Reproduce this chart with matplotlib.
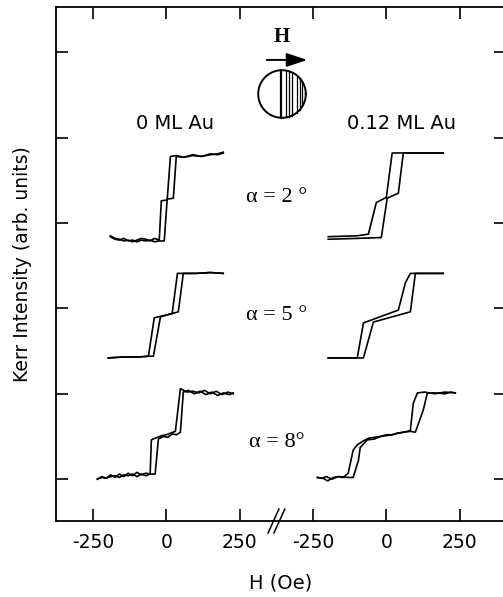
import matplotlib
matplotlib.use("Agg")
import matplotlib.pyplot as plt
import numpy as np

# ---- data: Kerr hysteresis loops (H in Oe, intensity in arb. units) ----
# left panel: 0 ML Au
l2_asc_h = [-191, -175, -160, -145, -130, -115, -100, -85, -70, -55, -40, -24, -7, 3, 24, 34, 60, 90, 120, 150, 175, 194]
l2_asc_k = [2.84, 2.81, 2.80, 2.82, 2.79, 2.80, 2.78, 2.80, 2.79, 2.80, 2.78, 2.79, 2.79, 3.28, 3.29, 3.78, 3.77, 3.79, 3.78, 3.80, 3.81, 3.83]
l2_desc_h = [194, 175, 150, 120, 90, 60, 35, 14, 3, -17, -24, -40, -55, -70, -85, -100, -115, -130, -145, -160, -175, -191]
l2_desc_k = [3.82, 3.80, 3.81, 3.78, 3.80, 3.77, 3.79, 3.78, 3.27, 3.26, 2.80, 2.82, 2.79, 2.81, 2.82, 2.80, 2.78, 2.80, 2.79, 2.81, 2.82, 2.85]

l5_asc_h = [-198, -150, -100, -60, -44, -20, 41, 58, 100, 150, 194]
l5_asc_k = [1.42, 1.43, 1.43, 1.44, 1.44, 1.90, 1.96, 2.41, 2.41, 2.42, 2.41]
l5_desc_h = [194, 150, 100, 38, 20, -41, -61, -100, -150, -198]
l5_desc_k = [2.41, 2.42, 2.41, 2.41, 1.94, 1.89, 1.44, 1.43, 1.43, 1.42]

l8_asc_h = [-235, -220, -205, -190, -175, -160, -145, -130, -115, -100, -85, -70, -55, -38, -27, -10, 5, 20, 35, 48, 58, 75, 95, 115, 135, 155, 175, 195, 215, 228]
l8_asc_k = [0.00, 0.03, 0.01, 0.05, 0.02, 0.06, 0.03, 0.07, 0.04, 0.08, 0.05, 0.07, 0.06, 0.06, 0.47, 0.50, 0.49, 0.53, 0.52, 0.55, 1.02, 1.04, 1.00, 1.03, 0.99, 1.02, 0.98, 1.01, 0.99, 1.01]
l8_desc_h = [228, 210, 190, 170, 150, 130, 110, 90, 70, 48, 31, 15, 0, -15, -30, -45, -51, -55, -70, -85, -100, -115, -130, -145, -160, -175, -190, -205, -220, -235]
l8_desc_k = [1.00, 1.02, 0.99, 1.03, 1.00, 1.04, 1.01, 1.03, 1.02, 1.06, 0.56, 0.54, 0.52, 0.51, 0.49, 0.47, 0.46, 0.06, 0.04, 0.06, 0.03, 0.06, 0.04, 0.05, 0.02, 0.04, 0.03, 0.01, 0.02, 0.00]

# right panel: 0.12 ML Au
r2_asc_h = [-198, -100, -17, 3, 41, 58, 120, 194]
r2_asc_k = [2.81, 2.82, 2.83, 3.29, 3.35, 3.82, 3.82, 3.82]
r2_desc_h = [194, 120, 20, 0, -34, -61, -100, -198]
r2_desc_k = [3.82, 3.82, 3.82, 3.30, 3.24, 2.87, 2.85, 2.84]

r5_asc_h = [-198, -120, -78, -44, 82, 99, 150, 194]
r5_asc_k = [1.42, 1.42, 1.42, 1.84, 1.96, 2.41, 2.41, 2.41]
r5_desc_h = [194, 150, 82, 65, 41, -78, -99, -150, -198]
r5_desc_k = [2.41, 2.41, 2.41, 2.30, 1.98, 1.83, 1.42, 1.42, 1.42]

r8_asc_h = [-235, -215, -200, -180, -160, -130, -113, -95, -89, -65, -40, -20, 0, 20, 40, 60, 82, 99, 126, 140, 170, 200, 220, 235]
r8_asc_k = [0.02, 0.01, -0.02, 0.02, 0.03, 0.02, 0.02, 0.22, 0.37, 0.46, 0.47, 0.50, 0.51, 0.52, 0.54, 0.55, 0.56, 0.55, 0.81, 1.01, 1.01, 1.00, 1.02, 1.01]
r8_desc_h = [235, 200, 165, 130, 106, 92, 82, 60, 40, 20, 0, -20, -40, -60, -82, -100, -113, -130, -147, -165, -185, -205, -220, -235]
r8_desc_k = [1.01, 1.02, 1.00, 1.02, 1.01, 0.89, 0.57, 0.55, 0.54, 0.52, 0.52, 0.50, 0.49, 0.48, 0.44, 0.40, 0.34, 0.07, 0.02, 0.03, 0.00, 0.03, 0.01, 0.02]

tick_vals = [-250, 0, 250]
panel_labels = ["0 ML Au", "0.12 ML Au"]
alpha_labels = [u"\u03b1 = 2 \u00b0", u"\u03b1 = 5 \u00b0", u"\u03b1 = 8\u00b0"]

# right panel is drawn shifted along x (broken axis)
shift = 750

sans = "DejaVu Sans"
serif = "Liberation Serif"

fig = plt.figure(figsize=(5.03, 5.97), dpi=100)
ax = fig.add_axes([56 / 503, 76 / 597, 450 / 503, 514 / 597])

left_loops = [(l2_asc_h, l2_asc_k, l2_desc_h, l2_desc_k),
              (l5_asc_h, l5_asc_k, l5_desc_h, l5_desc_k),
              (l8_asc_h, l8_asc_k, l8_desc_h, l8_desc_k)]
right_loops = [(r2_asc_h, r2_asc_k, r2_desc_h, r2_desc_k),
               (r5_asc_h, r5_asc_k, r5_desc_h, r5_desc_k),
               (r8_asc_h, r8_asc_k, r8_desc_h, r8_desc_k)]

for ah, ak, dh, dk in left_loops:
    ax.plot(ah, ak, color="black", lw=1.2)
    ax.plot(dh, dk, color="black", lw=1.2)
for ah, ak, dh, dk in right_loops:
    ax.plot(np.array(ah) + shift, ak, color="black", lw=1.2)
    ax.plot(np.array(dh) + shift, dk, color="black", lw=1.2)

ax.set_xlim(-376, 1158)
ax.set_ylim(-0.49, 5.53)

# ticks
ax.set_xticks(tick_vals + [v + shift for v in tick_vals])
ax.set_xticklabels([str(v) for v in tick_vals] * 2, fontsize=13.5, family=sans)
ax.set_yticks(range(6))
ax.set_yticklabels([])
ax.tick_params(direction="in", length=8.6, width=1.2, top=True, right=True, pad=9)
for s in ax.spines.values():
    s.set_linewidth(1.3)

ax.set_xlabel("H (Oe)", fontsize=14, family=sans, labelpad=15)
ax.set_ylabel("Kerr Intensity (arb. units)", fontsize=13.5, family=sans, labelpad=8)

# axis break mark
brk = 377
for dx in [0, 20]:
    ax.plot([brk - 30 + dx, brk + 7 + dx], [-0.63, -0.35], color="black", lw=1.1, clip_on=False)

# labels
ax.text(30, 4.17, panel_labels[0], ha="center", va="center", fontsize=14, family=sans)
ax.text(803, 4.17, panel_labels[1], ha="center", va="center", fontsize=14, family=sans)
for lab, y in zip(alpha_labels, [3.30, 1.92, 0.43]):
    ax.text(377, y, lab, ha="center", va="center", fontsize=16, family=serif)

# field direction arrow
ax.text(394, 5.18, "H", ha="center", va="center", fontsize=15, family=serif, fontweight="bold")
ax.annotate("", xy=(490, 4.91), xytext=(333, 4.91),
            arrowprops=dict(arrowstyle="-|>,head_length=0.9,head_width=0.3", color="black", lw=1.4,
                            mutation_scale=14))

# sample sketch: circle with stripes
ins = fig.add_axes([257 / 503, 478 / 597, 50 / 503, 50 / 597])
ins.set_xlim(-1.05, 1.05)
ins.set_ylim(-1.05, 1.05)
ins.axis("off")
t = np.linspace(0, 2 * np.pi, 200)
ins.plot(np.cos(t), np.sin(t), color="black", lw=1.4)
for i, xs in enumerate([-0.06, 0.18, 0.3, 0.42, 0.62, 0.74, 0.86]):
    yy = np.sqrt(1 - xs ** 2)
    ins.plot([xs, xs], [-yy, yy], color="black", lw=1.6 if i == 0 else 0.9)

fig.savefig("out.png", dpi=100)
